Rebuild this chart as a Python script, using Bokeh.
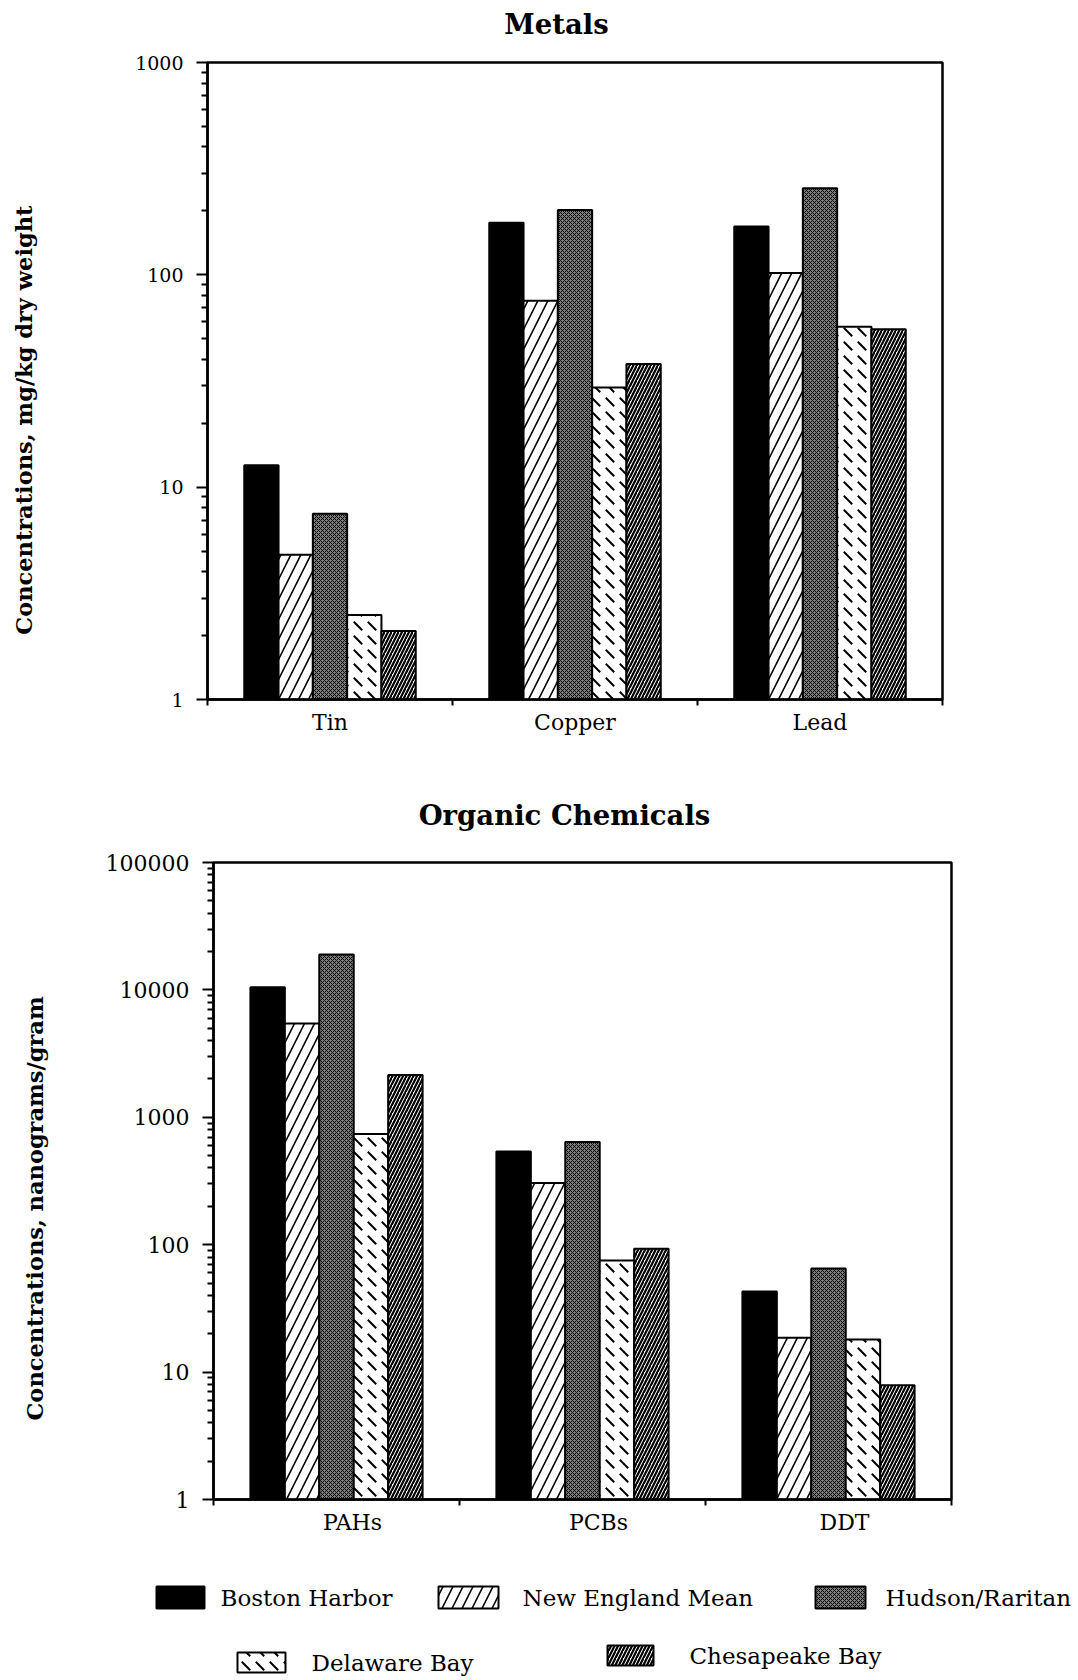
from bokeh.plotting import figure
from bokeh.models import ColumnDataSource, FixedTicker, PrintfTickFormatter, Range1d
from bokeh.core.properties import value
from bokeh.embed import file_html
from bokeh.resources import INLINE

# ---------------------------------------------------------------- data
series_names = ["Boston Harbor", "New England Mean", "Hudson/Raritan",
                "Delaware Bay", "Chesapeake Bay"]

# Metals, mg/kg dry weight
metal_categories = ["Tin", "Copper", "Lead"]
metal_boston = [12.7, 176, 169]
metal_new_england = [4.8, 75.5, 102]
metal_hudson = [7.5, 202, 256]
metal_delaware = [2.5, 29.5, 57]
metal_chesapeake = [2.1, 38, 55.5]
metal_ticks = [1, 10, 100, 1000]

# Organic chemicals, nanograms/gram
organic_categories = ["PAHs", "PCBs", "DDT"]
organic_boston = [10500, 540, 43]
organic_new_england = [5450, 305, 18.6]
organic_hudson = [19000, 640, 65]
organic_delaware = [740, 75, 18]
organic_chesapeake = [2150, 93, 7.9]
organic_ticks = [1, 10, 100, 1000, 10000, 100000]

# ---------------------------------------------------------------- styles
SERIF = "DejaVu Serif"
FILLS = [
    dict(fill_color="black"),
    dict(fill_color="white", hatch_pattern="/", hatch_scale=20,
         hatch_weight=1.6, hatch_color="black"),
    dict(fill_color="#7a7a7a", hatch_pattern="x", hatch_scale=4,
         hatch_weight=0.9, hatch_color="black"),
    dict(fill_color="white", hatch_pattern="`", hatch_scale=14,
         hatch_weight=2, hatch_color="black"),
    dict(fill_color="white", hatch_pattern="/", hatch_scale=7,
         hatch_weight=2.2, hatch_color="black"),
]
BAR_W = 0.14
NBSP = "\u00a0"
PAGE_W = 1078


def blank_strip(height):
    """A full-width canvas whose data units are pixels (y grows downward)."""
    s = figure(width=PAGE_W, height=height, x_range=Range1d(0, PAGE_W),
               y_range=Range1d(height, 0), output_backend="svg",
               toolbar_location=None, min_border=0, title=None)
    s.axis.visible = False
    s.grid.visible = False
    s.outline_line_color = None
    s.border_fill_color = "white"
    return s


def heading(text, height, cx, cy):
    s = blank_strip(height)
    s.text(x=[cx], y=[cy], text=[text], text_font=value(SERIF),
           text_font_style="bold", text_font_size="27.5px",
           text_align="center", text_baseline="middle", text_color="black")
    return s


def bar_chart(categories, series, ticks, ylabel, height, borders,
              tick_font, label_standoff, axis_label_standoff, name_shift=0.0):
    left, right, top, bottom = borders
    p = figure(width=PAGE_W, height=height, y_axis_type="log", title=None,
               x_range=Range1d(0, len(categories)),
               y_range=Range1d(ticks[0], ticks[-1]),
               output_backend="svg", toolbar_location=None,
               min_border_left=left, min_border_right=right,
               min_border_top=top, min_border_bottom=bottom)
    p.grid.visible = False
    p.outline_line_color = "black"
    p.outline_line_width = 2.5
    p.background_fill_color = "white"
    p.border_fill_color = "white"

    n = len(series)
    for j, vals in enumerate(series):
        xs = [i + 0.5 + (j - (n - 1) / 2) * BAR_W for i in range(len(categories))]
        src = ColumnDataSource(dict(x=xs, top=vals))
        p.vbar(x="x", top="top", bottom=ticks[0], width=BAR_W, source=src,
               line_color="black", line_width=2, **FILLS[j])

    # category axis: names under the groups, ticks on group boundaries
    xa = p.xaxis[0]
    name_pos = [i + 0.5 + name_shift for i in range(len(categories))]
    xa.ticker = FixedTicker(ticks=name_pos,
                            minor_ticks=list(range(len(categories) + 1)))
    xa.major_label_overrides = {c: name for c, name in zip(name_pos, categories)}
    xa.major_tick_line_color = None
    xa.major_tick_out = 0
    xa.major_tick_in = 0
    xa.minor_tick_out = 6
    xa.minor_tick_in = 0
    xa.minor_tick_line_width = 2
    xa.axis_line_width = 2.5
    xa.major_label_standoff = 4
    xa.major_label_text_font = SERIF
    xa.major_label_text_font_size = "22px"
    xa.major_label_text_color = "black"

    ya = p.yaxis[0]
    decades = len(ticks) - 1
    minor = [m * 10 ** d for d in range(decades) for m in range(2, 10)]
    ya.ticker = FixedTicker(ticks=ticks, minor_ticks=minor)
    ya.formatter = PrintfTickFormatter(format="%d")
    ya.major_tick_out = 11
    ya.major_tick_in = 0
    ya.minor_tick_out = 6
    ya.minor_tick_in = 0
    ya.major_tick_line_width = 2
    ya.minor_tick_line_width = 2
    ya.axis_line_width = 2.5
    ya.major_label_standoff = label_standoff
    ya.major_label_text_font = SERIF
    ya.major_label_text_font_size = tick_font
    ya.major_label_text_color = "black"
    ya.axis_label = ylabel
    ya.axis_label_text_font = SERIF
    ya.axis_label_text_font_style = "bold"
    ya.axis_label_text_font_size = "22.5px"
    ya.axis_label_text_color = "black"
    ya.axis_label_standoff = axis_label_standoff
    return p


metals_title = heading("Metals", 44, 556, 23)
metals = bar_chart(
    metal_categories,
    [metal_boston, metal_new_england, metal_hudson, metal_delaware, metal_chesapeake],
    metal_ticks, "Concentrations, mg/kg dry weight" + NBSP * 10, 716,
    (207, 136, 18, 61), "19px", 13, 95)

organics_title = heading("Organic Chemicals", 80, 564, 54)
organics = bar_chart(
    organic_categories,
    [organic_boston, organic_new_england, organic_hudson, organic_delaware, organic_chesapeake],
    organic_ticks, "Concentrations,  nanograms/gram" + NBSP * 6, 720,
    (213, 127, 22, 61), "22px", 13, 55, name_shift=0.065)

# ---------------------------------------------------------------- legend
leg = blank_strip(120)

swatch_x = [180, 468, 840, 261, 630]
swatch_y = [37, 37, 37, 102, 95]
swatch_w = [48, 60, 50, 48, 46]
swatch_h = [22, 22, 22, 20, 20]
label_x = [220, 522, 885, 311, 689]

for j in range(len(series_names)):
    leg.rect(x=[swatch_x[j]], y=[swatch_y[j]], width=swatch_w[j],
             height=swatch_h[j], line_color="black", line_width=2, **FILLS[j])

leg.text(x=label_x, y=swatch_y, text=series_names,
         text_font=value(SERIF), text_font_size="23px",
         text_baseline="middle", text_align="left", text_color="black")

open("out.html", "w").write(
    file_html([metals_title, metals, organics_title, organics, leg], INLINE))
